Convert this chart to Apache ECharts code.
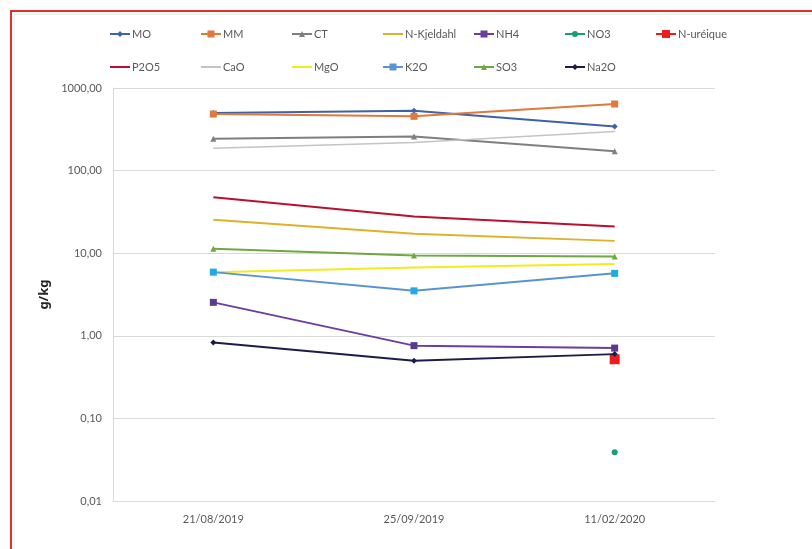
<!DOCTYPE html>
<html>
<head>
<meta charset="utf-8">
<script src="https://cdn.jsdelivr.net/npm/echarts@6/dist/echarts.min.js"></script>
<style>
html,body{margin:0;padding:0;background:#fff;}
#chart{width:812px;height:549px;}
</style>
</head>
<body>
<div id="chart"></div>
<script>
// ---- data ----
var categories = ["21/08/2019", "25/09/2019", "11/02/2020"];
var seriesNames = ["MO", "MM", "CT", "N-Kjeldahl", "NH4", "NO3", "N-uréique",
                   "P2O5", "CaO", "MgO", "K2O", "SO3", "Na2O"];
var MO        = [497, 530, 343];
var MM        = [484, 454, 640];
var CT        = [243, 259, 171];
var NKjeldahl = [25.4, 17.2, 14.1];
var NH4       = [2.54, 0.76, 0.71];
var NO3       = [null, null, 0.039];
var Nureique  = [null, null, 0.52];
var P2O5      = [47.5, 27.9, 21.0];
var CaO       = [187, 219, 298];
var MgO       = [5.9, 6.7, 7.4];
var K2O       = [5.9, 3.5, 5.7];
var SO3       = [11.3, 9.4, 9.1];
var Na2O      = [0.83, 0.50, 0.60];
var yTickValues = [0.01, 0.1, 1, 10, 100, 1000];
var yAxisTitle = "g/kg";

var values = [MO, MM, CT, NKjeldahl, NH4, NO3, Nureique, P2O5, CaO, MgO, K2O, SO3, Na2O];

// ---- styles ----
var styles = {
  "MO":         {line:"#3F62A6", item:"#3F62A6", symbol:"diamond", size:6, w:2},
  "MM":         {line:"#E0793A", item:"#E0793A", symbol:"rect", size:7, w:2},
  "CT":         {line:"#7F7F7F", item:"#7F7F7F", symbol:"triangle", size:6, w:2},
  "N-Kjeldahl": {line:"#DDB22A", item:"#DDB22A", symbol:"none", size:0, w:2},
  "NH4":        {line:"#6A3FA0", item:"#5A3C8E", symbol:"rect", size:7, w:2},
  "NO3":        {line:"#14A070", item:"#14A070", symbol:"circle", size:6, w:2},
  "N-uréique":  {line:"#F01C1C", item:"#F01C1C", symbol:"rect", size:10, w:2},
  "P2O5":       {line:"#B8102E", item:"#B8102E", symbol:"none", size:0, w:2},
  "CaO":        {line:"#C4C4C4", item:"#C4C4C4", symbol:"none", size:0, w:1.5},
  "MgO":        {line:"#F2EC1A", item:"#F2EC1A", symbol:"none", size:0, w:2},
  "K2O":        {line:"#5A93CF", item:"#1EAAE6", symbol:"rect", size:7, w:2},
  "SO3":        {line:"#6FA843", item:"#6FA843", symbol:"triangle", size:6, w:2},
  "Na2O":       {line:"#1C1C48", item:"#1C1C48", symbol:"diamond", size:6, w:2}
};

var FONT = "Lato";
var series = seriesNames.map(function(name, i){
  var s = styles[name];
  return {
    name: name,
    type: "line",
    data: values[i],
    symbol: s.symbol,
    symbolSize: s.size,
    showSymbol: s.symbol !== "none",
    connectNulls: false,
    lineStyle: {color: s.line, width: s.w},
    itemStyle: {color: s.item},
    emphasis: {disabled: true},
    z: 2 + i
  };
});

// legend icon paths: short line with the marker in its middle
var IW = 20;
function legendIcon(symbol, size){
  var H = Math.max(size, 2), c = H / 2, m = IW / 2, h = size / 2;
  var line = "M0," + (c - 1) + " L" + IW + "," + (c - 1) + " L" + IW + "," + (c + 1) + " L0," + (c + 1) + " Z";
  var mk = "";
  if (symbol === "rect") {
    mk = " M" + (m - h) + ",0 L" + (m + h) + ",0 L" + (m + h) + "," + H + " L" + (m - h) + "," + H + " Z";
  } else if (symbol === "diamond") {
    mk = " M" + m + ",0 L" + (m + h) + "," + c + " L" + m + "," + H + " L" + (m - h) + "," + c + " Z";
  } else if (symbol === "triangle") {
    mk = " M" + m + ",0 L" + (m + h) + "," + H + " L" + (m - h) + "," + H + " Z";
  } else if (symbol === "circle") {
    mk = " M" + (m - h) + "," + c + " A" + h + "," + h + " 0 1 1 " + (m + h) + "," + c +
         " A" + h + "," + h + " 0 1 1 " + (m - h) + "," + c + " Z";
  }
  return {path: "path://" + line + mk, H: H};
}

var legendCols = [110, 201, 292, 383, 474, 565, 656];
var legendRowCenters = [34, 67];
var legends = seriesNames.map(function(name, i){
  var row = i < 7 ? 0 : 1;
  var col = i < 7 ? i : i - 7;
  var s = styles[name];
  var ic = legendIcon(s.symbol, s.symbol === "none" ? 2 : Math.min(s.size, 8));
  return {
    data: [{name: name, icon: ic.path, itemStyle: {color: s.line}}],
    left: legendCols[col],
    top: legendRowCenters[row] - 7,
    height: 14,
    padding: 0,
    itemWidth: IW,
    itemHeight: ic.H,
    selectedMode: false,
    textStyle: {fontFamily: FONT, fontSize: 11, color: "#595959", padding: [0, 0, 0, -3], lineHeight: 14}
  };
});

var chart = echarts.init(document.getElementById("chart"), null, {renderer: "canvas"});
chart.setOption({
  animation: false,
  backgroundColor: "#ffffff",
  legend: legends,
  grid: {left: 113, right: 97, top: 88, bottom: 48, containLabel: false},
  xAxis: {
    type: "category",
    data: categories,
    boundaryGap: true,
    axisLine: {show: true, lineStyle: {color: "#D9D9D9", width: 1}},
    axisTick: {show: false},
    axisLabel: {fontFamily: FONT, fontSize: 11, color: "#595959", margin: 13},
    splitLine: {show: false}
  },
  yAxis: {
    type: "log",
    logBase: 10,
    min: yTickValues[0],
    max: yTickValues[yTickValues.length - 1],
    name: yAxisTitle,
    nameLocation: "middle",
    nameGap: 60,
    nameRotate: 90,
    nameTextStyle: {fontFamily: "Noto Sans", fontSize: 13, fontWeight: "bold", color: "#262626",
                    align: "center", verticalAlign: "middle"},
    axisLine: {show: true, lineStyle: {color: "#D9D9D9", width: 1}},
    axisTick: {show: false},
    axisLabel: {
      fontFamily: FONT, fontSize: 11, color: "#595959", margin: 11,
      formatter: function(v){ return Number(v).toFixed(2).replace(".", ","); }
    },
    splitLine: {show: true, lineStyle: {color: "#D9D9D9", width: 1}}
  },
  graphic: [
    {type: "rect", shape: {x: 11, y: 11, width: 900, height: 700},
     style: {fill: null, stroke: "#D93030", lineWidth: 2}, silent: true, z: 0},
    {type: "rect", shape: {x: 14, y: 14, width: 900, height: 700},
     style: {fill: null, stroke: "#E6E6E6", lineWidth: 1}, silent: true, z: 0}
  ],
  series: series
});
</script>
</body>
</html>
